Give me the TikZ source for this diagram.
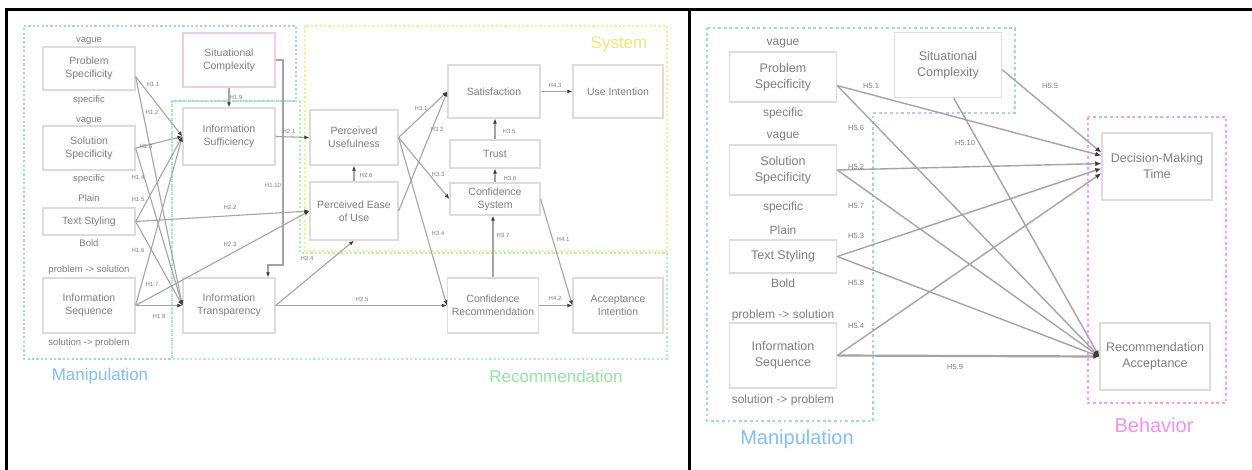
\documentclass[tikz,border=0pt]{standalone}
\usepackage{fontspec}
\setmainfont{Liberation Sans}
\usetikzlibrary{arrows.meta,calc}

\definecolor{boxline}{HTML}{DCDCDC}
\definecolor{txt}{HTML}{7E7E7E}
\definecolor{edge}{HTML}{A4A4A4}
\definecolor{tip}{HTML}{3A3A3A}
\definecolor{manblue}{HTML}{A4D3F6}
\definecolor{mantext}{HTML}{86BDF3}
\definecolor{recgreen}{HTML}{B8EDC0}
\definecolor{rectext}{HTML}{96E3A2}
\definecolor{sysyellow}{HTML}{F3EF9E}
\definecolor{systext}{HTML}{EDE77C}
\definecolor{behpink}{HTML}{F2A0F2}
\definecolor{behtext}{HTML}{F092F0}
\definecolor{scpink}{HTML}{F0CCE8}

\begin{document}
\begin{tikzpicture}[x=1pt,y=-1pt,
  construct/.style={draw=boxline,fill=white,line width=1.2pt,text=txt,align=center,inner sep=0pt},
  lbox/.style={construct,font=\fontsize{10.5}{13}\selectfont},
  rbox/.style={construct,line width=1.5pt,font=\fontsize{12.5}{16}\selectfont},
  note/.style={text=txt,inner sep=0pt,font=\fontsize{9.5}{11}\selectfont},
  rnote/.style={text=txt,inner sep=0pt,font=\fontsize{12}{14}\selectfont},
  link/.style={draw=edge,line width=1.1pt,-{Latex[length=5pt,width=4pt,color=tip]}},
  rlink/.style={draw=edge,line width=1.4pt,-{Latex[length=6pt,width=5pt,color=tip]}},
  hyp/.style={text=txt,inner sep=0pt,font=\fontsize{6}{7}\selectfont},
  rhyp/.style={text=txt,inner sep=0pt,font=\fontsize{7.5}{9}\selectfont},
  lgroup/.style={line width=2.2pt,dash pattern=on 2.2pt off 2.2pt},
  rgroup/.style={line width=2.8pt,dash pattern=on 2.8pt off 2.8pt},
  grouptitle/.style={inner sep=0pt,font=\fontsize{17}{20}\selectfont},
  rgrouptitle/.style={inner sep=0pt,font=\fontsize{20}{24}\selectfont}
]

% canvas
\fill[white] (0,0) rectangle (1252,470);
\useasboundingbox (0,0) rectangle (1252,470);

% table rules
\draw[line width=3pt] (6.5,470) -- (6.5,9.5) -- (1252,9.5);
\draw[line width=3pt] (689,9.5) -- (689,470);

% ===================== left model =====================
% groups
\draw[lgroup,draw=manblue] (24,26) -- (296,26) -- (296,101) -- (172,101) -- (172,359) -- (24,359) -- cycle;
\draw[lgroup,draw=recgreen] (172,101) -- (300,101) -- (300,253) -- (667,253) -- (667,359) -- (172,359) -- cycle;
\draw[lgroup,draw=sysyellow] (305,26) rectangle (667,251);
\node[grouptitle,text=systext] (tSystem) at (619,44) {System};
\node[grouptitle,text=mantext] (tManL) at (100,376) {Manipulation};
\node[grouptitle,text=rectext] (tRec) at (556,376) {Recommendation};

% manipulated factors
\node[lbox,minimum width=92pt,minimum height=43pt] (PS) at (89,68.5) {Problem\\Specificity};
\node[lbox,minimum width=92pt,minimum height=44pt] (SS) at (89,148) {Solution\\Specificity};
\node[lbox,minimum width=92pt,minimum height=27pt] (TS) at (89,221.5) {Text Styling};
\node[lbox,minimum width=92pt,minimum height=55pt] (IS) at (89,305.5) {Information\\Sequence};
\node[note] (nPSa) at (89,41) {vague};
\node[note] (nPSb) at (89,100) {specific};
\node[note] (nSSa) at (89,121) {vague};
\node[note] (nSSb) at (89,179) {specific};
\node[note] (nTSa) at (89,198) {Plain};
\node[note] (nTSb) at (89,243) {Bold};
\node[note] (nISa) at (89,270) {problem -> solution};
\node[note] (nISb) at (89,343) {solution -> problem};

% mediators and outcomes
\node[lbox,draw=scpink,minimum width=92pt,minimum height=54pt] (SC) at (229,60) {Situational\\Complexity};
\node[lbox,minimum width=92pt,minimum height=57pt] (ISuf) at (229,136.5) {Information\\Sufficiency};
\node[lbox,minimum width=92pt,minimum height=55pt] (IT) at (229,305.5) {Information\\Transparency};
\node[lbox,minimum width=88pt,minimum height=55pt] (PU) at (354,137.5) {Perceived\\Usefulness};
\node[lbox,minimum width=88pt,minimum height=58pt] (PEoU) at (354,211) {Perceived Ease\\of Use};
\node[lbox,minimum width=92pt,minimum height=53pt] (Sat) at (494,91.5) {Satisfaction};
\node[lbox,minimum width=90pt,minimum height=53pt] (UI) at (618,91.5) {Use Intention};
\node[lbox,minimum width=90pt,minimum height=28pt] (Trust) at (495,154) {Trust};
\node[lbox,minimum width=90pt,minimum height=32pt] (CS) at (495,199) {Confidence\\System};
\node[lbox,minimum width=91pt,minimum height=55pt] (CR) at (493,305.5) {Confidence\\Recommendation};
\node[lbox,minimum width=90pt,minimum height=55pt] (AI) at (618,305.5) {Acceptance\\Intention};

% bend points of the situational complexity path
\coordinate (scA) at (283,60);
\coordinate (scB) at (283,265);
\coordinate (scC) at (268,265);

% paths
\draw[link] (PS.-10) -- (ISuf.west);
\draw[link] (PS.-10) -- (IT.west);
\draw[link] (SS.east) -- (ISuf.west);
\draw[link] (SS.east) -- (IT.west);
\draw[link] (TS.east) -- (ISuf.west);
\draw[link] (TS.east) -- (IT.west);
\draw[link] (IS.east) -- (ISuf.west);
\draw[link] (IS.east) -- (IT.west);
\draw[link] (TS.east) -- (PEoU.west);
\draw[link] (IS.east) -- (PEoU.west);
\draw[link] (SC.south) -- (ISuf.north);
\draw[link] (SC.east) -- (scA) -- (scB) -- (scC) -- (scC |- IT.north);
\draw[link] (ISuf.east) -- (PU.west);
\draw[link] (IT.east) -- (PEoU.south);
\draw[link] (IT.east) -- (CR.west);
\draw[link] (PEoU.north) -- (PEoU.north |- PU.south);
\draw[link] (PU.east) -- (Sat.west);
\draw[link] (PEoU.east) -- (Sat.west);
\draw[link] (PU.east) -- (CS.west);
\draw[link] (PU.east) -- (CR.west);
\draw[link] (Trust.north) -- (Trust.north |- Sat.south);
\draw[link] (CS.north) -- (CS.north |- Trust.south);
\draw[link] (CR.north) -- (CR.north |- CS.south);
\draw[link] (CS.east) -- (AI.west);
\draw[link] (CR.east) -- (AI.west);
\draw[link] (Sat.east) -- (UI.west);

% hypothesis labels
\node[hyp] (h11) at (153,84) {H1.1};
\node[hyp] (h12) at (152,112) {H1.2};
\node[hyp] (h13) at (146,146) {H1.3};
\node[hyp] (h14) at (138,177) {H1.4};
\node[hyp] (h15) at (138,199) {H1.5};
\node[hyp] (h16) at (138,250) {H1.6};
\node[hyp] (h17) at (152,284) {H1.7};
\node[hyp] (h18) at (159,316) {H1.8};
\node[hyp] (h19) at (236,97) {H1.9};
\node[hyp] (h110) at (273,185) {H1.10};
\node[hyp] (h21) at (289,131) {H2.1};
\node[hyp] (h22) at (230,207) {H2.2};
\node[hyp] (h23) at (230,244) {H2.3};
\node[hyp] (h24) at (307,258) {H2.4};
\node[hyp] (h25) at (362,299) {H2.5};
\node[hyp] (h26) at (366,175) {H2.6};
\node[hyp] (h31) at (421,108) {H3.1};
\node[hyp] (h32) at (437,129) {H3.2};
\node[hyp] (h33) at (438,174) {H3.3};
\node[hyp] (h34) at (438,233) {H3.4};
\node[hyp] (h35) at (509,131) {H3.5};
\node[hyp] (h36) at (510,178) {H3.6};
\node[hyp] (h37) at (503,235) {H3.7};
\node[hyp] (h41) at (563,239) {H4.1};
\node[hyp] (h42) at (555,298) {H4.2};
\node[hyp] (h43) at (555,85) {H4.3};

% ===================== right model =====================
\draw[rgroup,draw=manblue] (707,28) -- (1015,28) -- (1015,113) -- (873,113) -- (873,421) -- (707,421) -- cycle;
\draw[rgroup,draw=behpink] (1088,117) rectangle (1226,403);
\node[rgrouptitle,text=mantext] (tManR) at (797,439) {Manipulation};
\node[rgrouptitle,text=behtext] (tBeh) at (1154,425) {Behavior};

\node[rbox,minimum width=107pt,minimum height=50pt] (rPS) at (783,77) {Problem\\Specificity};
\node[rbox,minimum width=107pt,minimum height=50pt] (rSS) at (783,170) {Solution\\Specificity};
\node[rbox,minimum width=107pt,minimum height=33pt] (rTS) at (783,256.5) {Text Styling};
\node[rbox,minimum width=107pt,minimum height=65pt] (rIS) at (783,355.5) {Information\\Sequence};
\node[rbox,minimum width=107pt,minimum height=65pt] (rSC) at (948,65) {Situational\\Complexity};
\node[rbox,minimum width=110pt,minimum height=67pt] (DMT) at (1157,166.5) {Decision-Making\\Time};
\node[rbox,minimum width=110pt,minimum height=67pt] (RA) at (1155,356.5) {Recommendation\\Acceptance};

\node[rnote] (rnPSa) at (783,44) {vague};
\node[rnote] (rnPSb) at (783,113) {specific};
\node[rnote] (rnSSa) at (783,137) {vague};
\node[rnote] (rnSSb) at (783,207) {specific};
\node[rnote] (rnTSa) at (783,230) {Plain};
\node[rnote] (rnTSb) at (783,283) {Bold};
\node[rnote] (rnISa) at (783,315) {problem -> solution};
\node[rnote] (rnISb) at (783,400) {solution -> problem};

\draw[rlink] (rPS.-9) -- (DMT.169);
\draw[rlink] (rPS.-9) -- (RA.west);
\draw[rlink] (rSS.east) -- (DMT.177);
\draw[rlink] (rSS.east) -- (RA.west);
\draw[rlink] (rTS.east) -- (DMT.182);
\draw[rlink] (rTS.east) -- (RA.west);
\draw[rlink] (rIS.east) -- (DMT.187);
\draw[rlink,line width=2.2pt] (rIS.east) -- (RA.west);
\draw[rlink] (rSC.-5) -- (DMT.166);
\draw[rlink] (rSC.-80) -- (RA.west);

\node[rhyp] (h51) at (871,86) {H5.1};
\node[rhyp] (h56) at (856,128) {H5.6};
\node[rhyp] (h52) at (856,167) {H5.2};
\node[rhyp] (h57) at (856,206) {H5.7};
\node[rhyp] (h53) at (856,236) {H5.3};
\node[rhyp] (h58) at (856,283) {H5.8};
\node[rhyp] (h54) at (856,326) {H5.4};
\node[rhyp] (h59) at (955,367) {H5.9};
\node[rhyp] (h55) at (1050,86) {H5.5};
\node[rhyp] (h510) at (965,143) {H5.10};

\end{tikzpicture}
\end{document}
